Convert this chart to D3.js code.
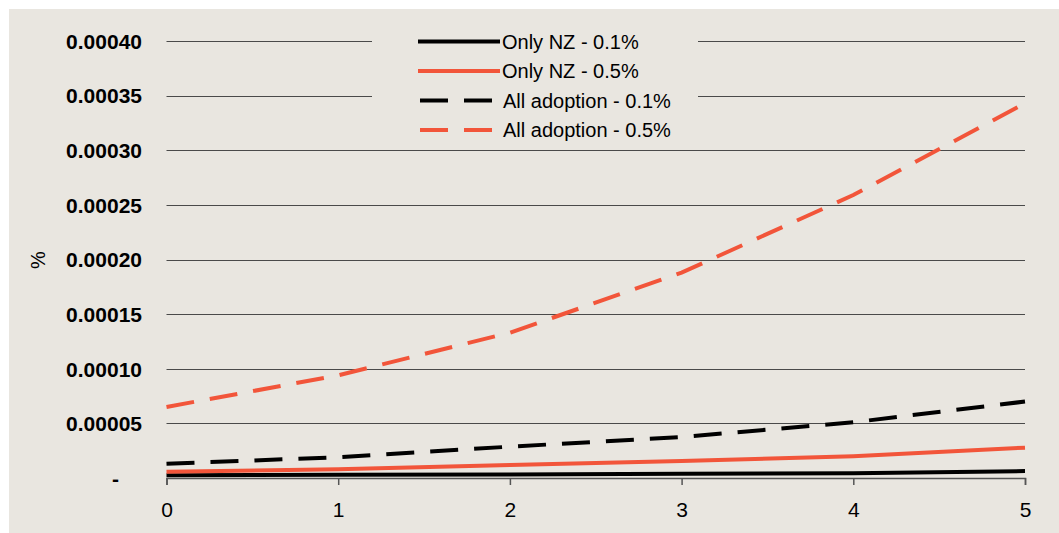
<!DOCTYPE html>
<html>
<head>
<meta charset="utf-8">
<script src="https://cdn.jsdelivr.net/npm/d3@7"></script>
<style>
  html, body { margin: 0; padding: 0; background: #fff; overflow: hidden; }
  svg { display: block; font-family: "Liberation Sans", Arial, sans-serif; }
</style>
</head>
<body>
<div id="chart"></div>
<script>
// chart data
var years = [0, 1, 2, 3, 4, 5];
var onlyNZ01 = [0.0000026, 0.0000029, 0.0000033, 0.0000038, 0.0000044, 0.0000063];
var onlyNZ05 = [0.0000058, 0.0000080, 0.0000120, 0.0000156, 0.0000200, 0.0000278];
var allAdopt01 = [0.0000131, 0.0000190, 0.0000287, 0.0000375, 0.0000510, 0.0000700];
var allAdopt05 = [0.0000650, 0.0000940, 0.0001330, 0.0001880, 0.0002590, 0.0003430];
var yTicks = [0, 0.00005, 0.0001, 0.00015, 0.0002, 0.00025, 0.0003, 0.00035, 0.0004];

var series = [
  { name: "Only NZ - 0.1%", values: onlyNZ01, color: "#000", dash: null },
  { name: "Only NZ - 0.5%", values: onlyNZ05, color: "#f2553a", dash: null },
  { name: "All adoption - 0.1%", values: allAdopt01, color: "#000", dash: "28,16" },
  { name: "All adoption - 0.5%", values: allAdopt05, color: "#f2553a", dash: "28,16" }
];

var width = 1059, height = 533;

var svg = d3.select("#chart")
  .append("svg")
  .attr("width", width)
  .attr("height", height);

// beige panel
svg.append("rect")
  .attr("x", 9).attr("y", 9)
  .attr("width", width).attr("height", height)
  .attr("fill", "#e9e6e0");

var x = d3.scaleLinear().domain([0, 5]).range([166.5, 1025]);
var y = d3.scaleLinear().domain([0, 0.0004]).range([478, 41]);

// gridlines
svg.append("g")
  .selectAll("line")
  .data(yTicks.filter(function(d) { return d > 0; }))
  .enter()
  .append("line")
  .attr("x1", x(0)).attr("x2", x(5))
  .attr("y1", function(d) { return Math.round(y(d)) + 0.5; })
  .attr("y2", function(d) { return Math.round(y(d)) + 0.5; })
  .attr("stroke", "#4a4a4a")
  .attr("stroke-width", 1);

// y axis labels
var yAxis = svg.append("g")
  .attr("transform", "translate(142,0)")
  .call(d3.axisLeft(y)
    .tickValues(yTicks)
    .tickSize(0)
    .tickPadding(0)
    .tickFormat(function(d) { return d === 0 ? "-" : d3.format(".5f")(d); }));
yAxis.select(".domain").remove();
yAxis.selectAll("text")
  .attr("font-size", 21)
  .attr("font-weight", "bold")
  .attr("fill", "#000")
  .attr("font-family", "Liberation Sans, Arial, sans-serif")
  .attr("dy", "0.35em")
  .attr("x", function(d) { return d === 0 ? -23 : 0; });

// x axis
var xAxis = svg.append("g")
  .attr("transform", "translate(0,478)")
  .call(d3.axisBottom(x).tickValues(years).tickSize(7).tickPadding(17).tickFormat(d3.format("d")));
xAxis.select(".domain").attr("stroke", "#555").attr("stroke-width", 1.5);
xAxis.selectAll("line").attr("stroke", "#555").attr("stroke-width", 1.5);
xAxis.selectAll("text")
  .attr("font-size", 21)
  .attr("fill", "#000")
  .attr("font-family", "Liberation Sans, Arial, sans-serif");

// y axis title
svg.append("text")
  .attr("transform", "translate(45,260) rotate(-90)")
  .attr("text-anchor", "middle")
  .attr("font-size", 20)
  .attr("fill", "#000")
  .text("%");

// series lines
var line = d3.line()
  .x(function(d, i) { return x(years[i]); })
  .y(function(d) { return y(d); });

svg.append("g")
  .selectAll("path")
  .data(series)
  .enter()
  .append("path")
  .attr("d", function(s) { return line(s.values); })
  .attr("fill", "none")
  .attr("stroke", function(s) { return s.color; })
  .attr("stroke-width", 4)
  .attr("stroke-dasharray", function(s) { return s.dash; });

// legend
var legend = svg.append("g");
legend.append("rect")
  .attr("x", 372).attr("y", 27)
  .attr("width", 326).attr("height", 120)
  .attr("fill", "#e9e6e0");

var items = legend.selectAll("g")
  .data(series)
  .enter()
  .append("g")
  .attr("transform", function(d, i) { return "translate(0," + (41.5 + i * 29.5) + ")"; });

items.append("line")
  .attr("x1", function(d) { return d.dash ? 420 : 418; })
  .attr("x2", function(d) { return d.dash ? 492 : 500; })
  .attr("stroke", function(d) { return d.color; })
  .attr("stroke-width", 4)
  .attr("stroke-dasharray", function(d) { return d.dash; });

items.append("text")
  .attr("x", function(d) { return d.dash ? 503 : 502; })
  .attr("dy", "0.35em")
  .attr("font-size", 20)
  .attr("fill", "#000")
  .text(function(d) { return d.name; });
</script>
</body>
</html>
